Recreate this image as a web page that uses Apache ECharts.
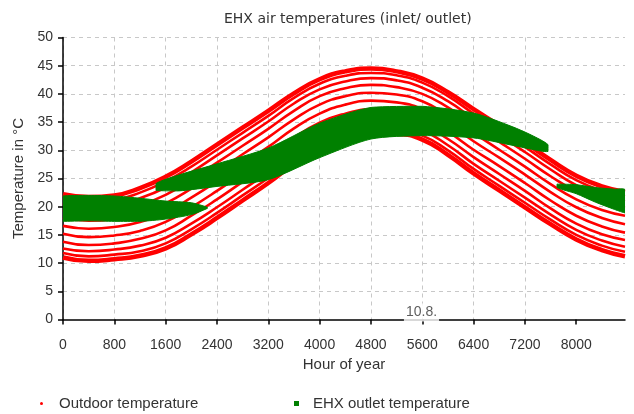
<!DOCTYPE html>
<html>
<head>
<meta charset="utf-8">
<title>EHX air temperatures</title>
<script src="https://cdn.jsdelivr.net/npm/echarts@6/dist/echarts.min.js"></script>
<style>
  html, body { margin: 0; padding: 0; background: #fff; }
  #chart { width: 634px; height: 414px; }
</style>
</head>
<body>
<div id="chart"></div>
<script>
// Axis ticks
const hourTicks = [0, 800, 1600, 2400, 3200, 4000, 4800, 5600, 6400, 7200, 8000];
const tempTicks = [0, 5, 10, 15, 20, 25, 30, 35, 40, 45, 50];

// Outdoor temperature, one curve per hour-of-day group (°C), sampled at these hours
const outdoorHours = [0, 400, 800, 1200, 1600, 2000, 2400, 2800, 3200, 3600, 4000, 4400,
                      4800, 5200, 5600, 6000, 6400, 6800, 7200, 7600, 8000, 8400, 8760];
const outdoorBand01 = [22.2, 21.7, 22.0, 23.3, 25.3, 28.0, 31.0, 34.0, 37.0, 40.1, 42.6, 44.0,
                       44.5, 44.0, 42.7, 40.3, 37.3, 34.4, 31.4, 28.3, 25.5, 23.6, 22.6];
const outdoorBand02 = [21.5, 20.9, 21.2, 22.5, 24.5, 27.1, 30.1, 33.1, 36.1, 39.3, 41.8, 43.2,
                       43.7, 43.3, 42.0, 39.6, 36.5, 33.6, 30.6, 27.5, 24.7, 22.8, 21.8];
const outdoorBand03 = [20.6, 20.0, 20.3, 21.5, 23.4, 26.1, 29.1, 32.1, 35.1, 38.3, 40.8, 42.2,
                       42.8, 42.4, 41.1, 38.7, 35.6, 32.7, 29.7, 26.6, 23.8, 21.9, 20.9];
const outdoorBand04 = [19.4, 18.9, 19.2, 20.3, 22.1, 24.8, 27.8, 30.8, 33.8, 37.0, 39.6, 41.0,
                       41.6, 41.2, 40.0, 37.6, 34.5, 31.5, 28.5, 25.4, 22.7, 20.8, 19.8];
const outdoorBand05 = [18.1, 17.5, 17.8, 18.8, 20.6, 23.2, 26.2, 29.3, 32.3, 35.5, 38.1, 39.6,
                       40.2, 39.9, 38.7, 36.2, 33.1, 30.1, 27.1, 24.0, 21.3, 19.4, 18.4];
const outdoorBand06 = [16.6, 16.1, 16.4, 17.3, 19.0, 21.6, 24.5, 27.6, 30.6, 33.9, 36.5, 38.1,
                       38.8, 38.5, 37.3, 34.8, 31.6, 28.7, 25.7, 22.6, 19.9, 18.0, 16.9];
const outdoorBand07 = [15.2, 14.6, 14.9, 15.7, 17.3, 19.9, 22.8, 25.9, 28.9, 32.2, 34.9, 36.5,
                       37.3, 37.0, 35.9, 33.3, 30.1, 27.2, 24.2, 21.1, 18.4, 16.5, 15.4];
const outdoorBand08 = [13.8, 13.2, 13.5, 14.3, 15.8, 18.4, 21.3, 24.4, 27.4, 30.8, 33.5, 35.1,
                       35.9, 35.7, 34.6, 32.0, 28.8, 25.8, 22.8, 19.7, 17.0, 15.1, 14.1];
const outdoorBand09 = [12.6, 12.1, 12.4, 13.1, 14.5, 17.0, 19.9, 23.0, 26.1, 29.5, 32.2, 33.9,
                       34.7, 34.5, 33.5, 30.9, 27.6, 24.6, 21.6, 18.6, 15.9, 14.0, 12.9];
const outdoorBand10 = [11.8, 11.2, 11.5, 12.1, 13.5, 16.0, 18.9, 22.0, 25.1, 28.5, 31.2, 32.9,
                       33.8, 33.6, 32.6, 30.0, 26.7, 23.7, 20.7, 17.7, 15.0, 13.1, 12.0];
const outdoorBand11 = [11.0, 10.4, 10.7, 11.3, 12.6, 15.1, 18.0, 21.1, 24.2, 27.6, 30.4, 32.1,
                       33.0, 32.9, 31.9, 29.2, 25.9, 22.9, 19.9, 16.9, 14.2, 12.3, 11.2];

// EHX outlet temperature ranges (°C): winter, summer and late-year operation
const outletWinterHours = [0, 400, 800, 1200, 1600, 2000, 2250];
const outletWinterLow   = [17.4, 17.5, 17.4, 17.4, 17.8, 18.6, 19.7];
const outletWinterHigh  = [21.9, 22.0, 21.9, 21.5, 21.0, 20.7, 19.9];

const outletSummerHours = [1450, 1800, 2400, 3200, 4000, 4800, 5600, 6400, 7000, 7300, 7560];
const outletSummerLow   = [22.9, 22.8, 23.6, 24.8, 28.7, 32.0, 32.6, 32.2, 30.9, 30.2, 29.8];
const outletSummerHigh  = [24.1, 25.6, 27.6, 30.4, 34.8, 37.6, 37.8, 36.6, 34.2, 32.7, 31.0];

const outletLateHours = [7700, 8000, 8300, 8600, 8760];
const outletLateLow   = [23.4, 22.3, 20.8, 19.5, 18.9];
const outletLateHigh  = [24.0, 23.9, 23.4, 23.1, 23.0];

// Date marker on the hour axis
const dateMarkHours = [5588];
const dateMarkLabels = ['10.8.'];

const RED = '#ff0000';
const GREEN = '#008000';
const TEXT = '#333333';
const FONT = 'Liberation Sans, Arial, sans-serif';

const outdoorBands = [
  outdoorBand01, outdoorBand02, outdoorBand03, outdoorBand04, outdoorBand05, outdoorBand06,
  outdoorBand07, outdoorBand08, outdoorBand09, outdoorBand10, outdoorBand11
];

function outdoorSeries(values, idx) {
  const edge = idx === 0 || idx === outdoorBands.length - 1;
  return {
    type: 'line',
    name: 'Outdoor temperature',
    data: outdoorHours.map((h, i) => [h, values[i]]),
    smooth: 0.5,
    showSymbol: false,
    symbol: 'none',
    silent: true,
    z: 2,
    itemStyle: { color: RED },
    lineStyle: { color: RED, width: edge ? 4.5 : 2.6 }
  };
}

function outletSeries(hours, low, high) {
  return {
    type: 'custom',
    name: 'EHX outlet temperature',
    coordinateSystem: 'cartesian2d',
    data: [[hours[0], low[0]]],
    encode: { x: 0, y: 1 },
    silent: true,
    clip: true,
    z: 4,
    itemStyle: { color: GREEN },
    renderItem: function (params, api) {
      const pts = [];
      for (let i = 0; i < hours.length; i++) pts.push(api.coord([hours[i], high[i]]));
      for (let i = hours.length - 1; i >= 0; i--) pts.push(api.coord([hours[i], low[i]]));
      // keep the smoothed outline inside the band's own extent
      const xs = pts.map(p => p[0]);
      const ys = pts.map(p => p[1]);
      const bounds = [[Math.min(...xs), Math.min(...ys)], [Math.max(...xs), Math.max(...ys)]];
      return {
        type: 'polygon',
        shape: { points: pts, smooth: 0.25, smoothConstraint: bounds },
        style: { fill: GREEN, stroke: GREEN, lineWidth: 1 }
      };
    }
  };
}

const series = outdoorBands.map(outdoorSeries);
series.push(outletSeries(outletWinterHours, outletWinterLow, outletWinterHigh));
series.push(outletSeries(outletSummerHours, outletSummerLow, outletSummerHigh));
series.push(outletSeries(outletLateHours, outletLateLow, outletLateHigh));
series.push({
  type: 'scatter',
  name: 'date mark',
  data: dateMarkHours.map((h, i) => ({ value: [h, 0], label: { formatter: dateMarkLabels[i] } })),
  symbolSize: 0,
  clip: false,
  silent: true,
  z: 20,
  label: {
    show: true,
    position: 'inside',
    offset: [0, -7],
    color: TEXT,
    fontFamily: FONT,
    fontSize: 14,
    backgroundColor: '#ffffff',
    padding: [2, 2, 2, 2]
  }
});

const chart = echarts.init(document.getElementById('chart'), null, { renderer: 'canvas' });
chart.setOption({
  animation: false,
  backgroundColor: '#ffffff',
  title: {
    text: 'EHX air temperatures (inlet/ outlet)',
    left: 219,
    top: 7,
    textStyle: { fontFamily: 'DejaVu Sans, sans-serif', fontSize: 14, fontWeight: 'normal', color: TEXT }
  },
  legend: [
    {
      data: [{ name: 'Outdoor temperature', icon: 'circle', itemStyle: { color: RED } }],
      left: 35,
      top: 391,
      itemWidth: 3,
      itemHeight: 3,
      selectedMode: false,
      textStyle: { fontFamily: FONT, fontSize: 15, color: TEXT, padding: [0, 0, 0, 11] }
    },
    {
      data: [{ name: 'EHX outlet temperature', icon: 'rect', itemStyle: { color: GREEN } }],
      left: 289,
      top: 391,
      itemWidth: 5,
      itemHeight: 5,
      selectedMode: false,
      textStyle: { fontFamily: FONT, fontSize: 15, color: TEXT, padding: [0, 0, 0, 9] }
    }
  ],
  grid: { left: 63, right: 9, top: 37.5, bottom: 94.5, containLabel: false },
  xAxis: {
    type: 'value',
    min: 0,
    max: 8760,
    interval: 800,
    name: 'Hour of year',
    nameLocation: 'middle',
    nameGap: 37,
    nameTextStyle: { fontFamily: FONT, fontSize: 15, color: TEXT },
    axisLine: { show: true, onZero: false, lineStyle: { color: '#000', width: 1.5 } },
    axisTick: { show: true, customValues: hourTicks, length: 5, lineStyle: { color: '#000', width: 1.5 } },
    axisLabel: {
      customValues: hourTicks,
      formatter: v => String(v),
      margin: 19,
      fontFamily: FONT,
      fontSize: 14,
      color: TEXT
    },
    splitLine: { show: true, showMaxLine: false, lineStyle: { color: '#c8c8c8', type: [4, 4], width: 1 } }
  },
  yAxis: {
    type: 'value',
    min: 0,
    max: 50,
    interval: 5,
    name: 'Temperature in °C',
    nameLocation: 'middle',
    nameGap: 36,
    nameTextStyle: { fontFamily: FONT, fontSize: 15, color: TEXT },
    axisLine: { show: true, lineStyle: { color: '#000', width: 1.5 } },
    axisTick: { show: true, customValues: tempTicks, length: 5, lineStyle: { color: '#000', width: 1.5 } },
    axisLabel: {
      customValues: tempTicks,
      formatter: v => String(v),
      margin: 10,
      fontFamily: FONT,
      fontSize: 14,
      color: TEXT
    },
    splitLine: { show: true, showMinLine: false, lineStyle: { color: '#c8c8c8', type: [4, 4], width: 1 } }
  },
  series: series
});
</script>
</body>
</html>
